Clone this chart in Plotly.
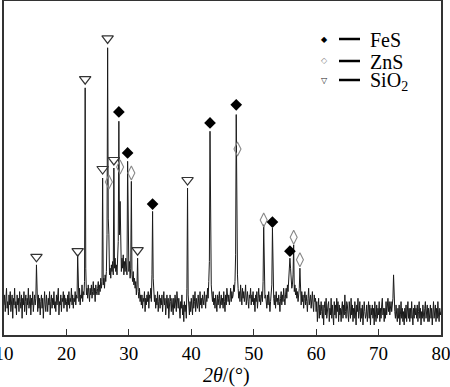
import numpy as np
import plotly.graph_objects as go

# XRD intensity (arb. units, 0-100), sampled every 0.1 deg from 10 to 80 deg 2theta
intensity = [
    9, 12, 7, 11, 14, 8, 10, 6, 12, 9,        # 10
    13, 7, 10, 12, 5, 11, 9, 14, 8, 10,       # 11
    6, 12, 9, 11, 7, 13, 10, 8, 12, 5,        # 12
    11, 9, 13, 7, 10, 12, 6, 11, 9, 14,       # 13
    8, 10, 12, 6, 11, 9, 13, 7, 10, 12,       # 14
    9, 11, 21, 10, 7, 12, 8, 11, 6, 10,       # 15
    12, 8, 11, 5, 10, 13, 9, 7, 12, 10,       # 16
    7, 11, 9, 13, 6, 10, 12, 8, 11, 9,        # 17
    13, 8, 10, 7, 12, 9, 11, 14, 6, 10,       # 18
    9, 12, 7, 11, 10, 13, 8, 12, 9, 11,       # 19
    10, 7, 12, 9, 13, 8, 11, 10, 14, 9,       # 20
    12, 8, 11, 10, 13, 9, 12, 11, 24, 13,     # 21
    10, 14, 9, 12, 11, 15, 10, 13, 12, 16,    # 22
    74, 20, 12, 14, 11, 15, 13, 10, 14, 12,   # 23
    15, 11, 13, 16, 12, 14, 10, 15, 13, 12,   # 24
    14, 16, 12, 15, 13, 17, 14, 16, 47, 15,   # 25
    17, 14, 18, 16, 19, 30, 86, 35, 30, 18,   # 26
    20, 17, 21, 19, 22, 18, 50, 20, 23, 19,   # 27
    21, 18, 22, 28, 64, 30, 40, 22, 19, 23,   # 28
    20, 24, 18, 22, 19, 23, 21, 18, 52, 26,   # 29
    19, 22, 17, 20, 46, 18, 16, 19, 15, 17,   # 30
    14, 16, 12, 15, 23, 13, 11, 14, 10, 12,   # 31
    9, 12, 8, 11, 10, 13, 7, 11, 9, 12,       # 32
    10, 13, 8, 12, 11, 14, 10, 18, 37, 17,    # 33
    13, 10, 12, 8, 11, 9, 13, 7, 10, 12,      # 34
    8, 11, 9, 12, 7, 10, 13, 9, 11, 6,        # 35
    10, 12, 8, 11, 5, 9, 12, 10, 7, 11,       # 36
    9, 6, 11, 8, 12, 10, 7, 13, 9, 8,         # 37
    11, 7, 5, 10, 8, 12, 6, 9, 4, 10,         # 38
    7, 9, 5, 14, 44, 12, 8, 6, 10, 7,         # 39
    11, 9, 6, 12, 8, 10, 13, 7, 11, 9,        # 40
    8, 12, 10, 7, 13, 9, 11, 8, 12, 10,       # 41
    9, 13, 11, 8, 12, 10, 14, 11, 16, 22,     # 42
    61, 24, 15, 12, 10, 13, 9, 11, 8, 12,     # 43
    10, 7, 12, 9, 11, 13, 8, 10, 12, 9,       # 44
    11, 8, 13, 10, 7, 12, 9, 14, 11, 10,      # 45
    12, 9, 11, 14, 10, 13, 11, 12, 15, 13,    # 46
    16, 24, 66, 26, 18, 14, 11, 13, 10, 15,   # 47
    12, 9, 14, 11, 13, 10, 12, 15, 9, 11,     # 48
    13, 10, 8, 12, 11, 14, 9, 12, 10, 13,     # 49
    9, 11, 7, 12, 10, 13, 8, 11, 14, 10,      # 50
    12, 9, 11, 13, 10, 16, 33, 14, 11, 12,    # 51
    10, 8, 12, 9, 13, 11, 7, 10, 12, 15,      # 52
    32, 16, 11, 9, 12, 8, 13, 10, 11, 9,      # 53
    12, 10, 7, 11, 13, 9, 12, 10, 14, 11,     # 54
    9, 12, 14, 11, 15, 13, 16, 18, 23, 20,    # 55
    17, 14, 15, 18, 27, 13, 15, 12, 14, 11,   # 56
    13, 10, 12, 14, 20, 11, 9, 13, 10, 12,    # 57
    8, 11, 13, 9, 12, 10, 7, 11, 14, 9,       # 58
    10, 12, 8, 11, 13, 9, 7, 12, 10, 11,      # 59
    7, 10, 4, 8, 11, 5, 9, 6, 10, 7,          # 60
    5, 9, 3, 8, 10, 6, 11, 5, 8, 9,           # 61
    10, 4, 8, 6, 11, 5, 9, 7, 3, 10,          # 62
    6, 9, 5, 11, 7, 10, 4, 9, 6, 8,           # 63
    4, 8, 10, 5, 9, 6, 12, 7, 5, 10,          # 64
    9, 6, 4, 10, 7, 5, 11, 6, 9, 4,           # 65
    8, 5, 10, 6, 3, 9, 7, 11, 5, 7,           # 66
    10, 4, 8, 5, 9, 3, 6, 10, 7, 5,           # 67
    6, 9, 4, 8, 10, 5, 9, 3, 8, 6,            # 68
    9, 5, 8, 3, 10, 6, 4, 9, 5, 8,            # 69
    6, 10, 4, 8, 5, 9, 11, 6, 8, 4,           # 70
    8, 5, 10, 6, 9, 11, 7, 10, 6, 9,          # 71
    10, 7, 9, 11, 18, 10, 7, 5, 9, 6,         # 72
    4, 8, 5, 9, 3, 6, 10, 5, 8, 4,            # 73
    7, 3, 8, 5, 9, 4, 7, 10, 5, 8,            # 74
    4, 8, 5, 10, 6, 3, 8, 5, 9, 6,            # 75
    8, 5, 9, 4, 7, 10, 5, 8, 3, 7,            # 76
    5, 9, 6, 4, 8, 10, 5, 7, 9, 4,            # 77
    8, 4, 7, 9, 5, 8, 3, 6, 10, 5,            # 78
    7, 9, 4, 8, 5, 10, 6, 4, 8, 6,            # 79
    7,                                        # 80
]
two_theta = np.linspace(10, 80, len(intensity))

# Phase markers: 2theta positions and marker heights
fes_pos = [28.4, 29.8, 33.8, 43.0, 47.2, 53.0, 55.8]
fes_y = [66.8, 54.5, 39.2, 63.5, 68.9, 33.8, 25.1]
zns_pos = [26.8, 28.6, 30.4, 47.4, 51.6, 56.4, 57.4]
zns_y = [45.8, 50.3, 48.5, 55.7, 34.4, 29.3, 22.5]
sio2_pos = [15.2, 21.8, 23.0, 25.8, 26.6, 27.6, 31.4, 39.4]
sio2_y = [23.4, 25.1, 76.6, 49.7, 88.8, 52.4, 25.4, 46.4]

x_ticks = [10, 20, 30, 40, 50, 60, 70, 80]
legend_labels = ["FeS", "ZnS", "SiO<sub>2</sub>"]

FONT = "Liberation Serif, Times New Roman, serif"

fig = go.Figure()
fig.add_trace(go.Scatter(x=two_theta, y=intensity, mode="lines",
                         line=dict(color="#1a1a1a", width=1), showlegend=False,
                         hoverinfo="skip"))
fig.add_trace(go.Scatter(x=sio2_pos, y=sio2_y, mode="markers",
                         marker=dict(symbol="triangle-down-open", size=10,
                                     color="#333333", line=dict(width=1.2)),
                         showlegend=False))
fig.add_trace(go.Scatter(x=zns_pos, y=zns_y, mode="markers",
                         marker=dict(symbol="diamond-tall-open", size=10,
                                     color="#888888", line=dict(width=1.1)),
                         showlegend=False))
fig.add_trace(go.Scatter(x=fes_pos, y=fes_y, mode="markers",
                         marker=dict(symbol="diamond", size=9, color="#000000"),
                         showlegend=False))

W, H = 450, 387
ml, mr, mt, mb = 4, 9, 1, 52
pw, ph = W - ml - mr, H - mt - mb

def px_to_paper(xp, yp):
    return (xp - ml) / pw, 1 - (yp - mt) / ph

# Custom legend (symbol, dash, label)
legend_syms = ["\u25C6", "\u25C7", "\u25BD"]
legend_sym_colors = ["#000000", "#888888", "#222222"]
rows_y = [39, 61, 80]
annotations = []
shapes = []
for sym, col, lab, ry in zip(legend_syms, legend_sym_colors, legend_labels, rows_y):
    sx, sy = px_to_paper(324, ry)
    annotations.append(dict(x=sx, y=sy, xref="paper", yref="paper", text=sym,
                            showarrow=False, font=dict(family="DejaVu Sans", size=8, color=col),
                            xanchor="center", yanchor="middle"))
    x0, y0 = px_to_paper(339, ry)
    x1, _ = px_to_paper(360, ry)
    shapes.append(dict(type="line", xref="paper", yref="paper", x0=x0, x1=x1, y0=y0, y1=y0,
                       line=dict(color="#000000", width=2.5)))
    tx, ty = px_to_paper(368, ry + 1)
    annotations.append(dict(x=tx, y=ty, xref="paper", yref="paper", text=lab,
                            showarrow=False, font=dict(family=FONT, size=20, color="#000000"),
                            xanchor="left", yanchor="middle"))

# x-axis title as annotation
tx, ty = px_to_paper(226, 375)
annotations.append(dict(x=tx, y=ty, xref="paper", yref="paper",
                        text="<i>2\u03b8</i>/(\u00b0)", showarrow=False,
                        font=dict(family=FONT, size=20, color="#000000"),
                        xanchor="center", yanchor="middle"))

fig.update_layout(
    width=W, height=H,
    margin=dict(l=ml, r=mr, t=mt, b=mb, autoexpand=False),
    paper_bgcolor="white", plot_bgcolor="white",
    font=dict(family=FONT, size=19, color="#000000"),
    annotations=annotations, shapes=shapes,
    xaxis=dict(range=[10, 80], tickvals=x_ticks, ticks="inside", ticklen=6,
               tickcolor="#333333", showgrid=False, zeroline=False,
               showline=True, linecolor="#333333", linewidth=2, mirror=True,
               tickfont=dict(family=FONT, size=19), automargin=False,
               ticklabeloverflow="allow"),
    yaxis=dict(range=[0, 100], showticklabels=False, ticks="", showgrid=False,
               zeroline=False, showline=True, linecolor="#333333", linewidth=2,
               mirror=True, automargin=False),
)

fig.write_html("out.html", config={"displayModeBar": False},
               post_script="document.body.style.margin='0';document.body.style.overflow='hidden';")
